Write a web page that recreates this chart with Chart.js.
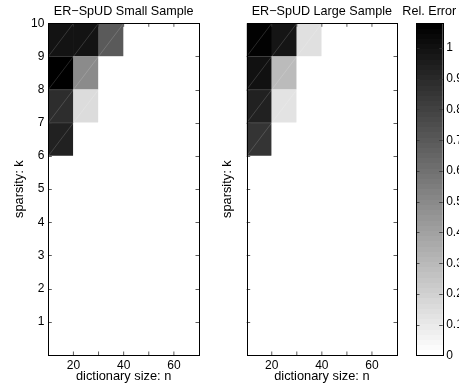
<!DOCTYPE html>
<html>
<head>
<meta charset="utf-8">
<script src="https://cdn.jsdelivr.net/npm/chart.js@4.4.1/dist/chart.umd.min.js"></script>
<style>
html,body{margin:0;padding:0;background:#fff;}
#wrap{position:relative;width:459px;height:389px;overflow:hidden;}
#wrap canvas{position:absolute;left:0;top:0;}
</style>
</head>
<body>
<div id="wrap">
<canvas id="small" width="459" height="389"></canvas>
<canvas id="large" width="459" height="389"></canvas>
<canvas id="cbar" width="459" height="389"></canvas>
</div>
<script>
// dictionary size n (left edge of cell), sparsity k (cell spans k-1..k)
let nVals=[10,20,30,40,50,60];
let kVals=[10,9,8,7,6,5,4,3,2,1];
// relative error, one row per k (kVals order), one column per n
let errSmall=[
  [1.00,1.00,0.70,0,0,0],
  [1.10,0.49,0,0,0,0],
  [0.89,0.15,0,0,0,0],
  [0.94,0,0,0,0,0],
  [0,0,0,0,0,0],
  [0,0,0,0,0,0],
  [0,0,0,0,0,0],
  [0,0,0,0,0,0],
  [0,0,0,0,0,0],
  [0,0,0,0,0,0]
];
let errLarge=[
  [1.07,0.99,0.13,0,0,0],
  [1.01,0.29,0,0,0,0],
  [0.94,0.12,0,0,0,0],
  [0.86,0,0,0,0,0],
  [0,0,0,0,0,0],
  [0,0,0,0,0,0],
  [0,0,0,0,0,0],
  [0,0,0,0,0,0],
  [0,0,0,0,0,0],
  [0,0,0,0,0,0]
];
let xTickLabels=[20,40,60];
let cMax=1.08;
let cbarTicks=[0,0.1,0.2,0.3,0.4,0.5,0.6,0.7,0.8,0.9,1];

Chart.defaults.font.family='"Liberation Sans", Arial, sans-serif';
Chart.defaults.color='#000';

let titleFont={size:12.6,weight:'normal'};
let labelFont={size:12.8};
let tickFont={size:12};

function grayFor(v){
  let g=Math.round(255*(1-Math.min(v,cMax)/cMax));
  return 'rgb('+g+','+g+','+g+')';
}

// box round the plot + inward tick marks, matlab style
const frame={
  id:'frame',
  afterDatasetsDraw(chart){
    let vals=chart.data.datasets[0].vals;
    if(!vals) return;
    let ctx=chart.ctx;
    ctx.save();
    ctx.strokeStyle='rgba(255,255,255,0.22)';
    ctx.lineWidth=0.7;
    chart.getDatasetMeta(0).data.forEach((el,i)=>{
      if(vals[i]<=0) return;
      let w=el.width/2;
      ctx.beginPath();
      ctx.moveTo(el.x-w,el.base);
      ctx.lineTo(el.x+w,el.y);
      ctx.moveTo(el.x-w,el.y);
      ctx.lineTo(el.x+w,el.y);
      ctx.stroke();
    });
    ctx.restore();
  },
  afterDraw(chart){
    let ctx=chart.ctx, a=chart.chartArea;
    ctx.save();
    ctx.strokeStyle='#333';
    ctx.lineWidth=0.8;
    let len=3.5;
    let xs=chart.scales.x, ys=chart.scales.y;
    if(xs && xs.options.display!==false){
      xs.ticks.forEach(t=>{
        let p=xs.getPixelForValue(t.value);
        if(p<=a.left+1||p>=a.right-1) return;
        ctx.beginPath();
        ctx.moveTo(p,a.bottom);ctx.lineTo(p,a.bottom-len);
        ctx.moveTo(p,a.top);ctx.lineTo(p,a.top+len);
        ctx.stroke();
      });
    }
    ys.ticks.forEach(t=>{
      let p=Math.round(ys.getPixelForValue(t.value))+0.5;
      if(p<=a.top+1||p>=a.bottom-1) return;
      ctx.beginPath();
      ctx.moveTo(a.left,p);ctx.lineTo(a.left+len,p);
      ctx.moveTo(a.right,p);ctx.lineTo(a.right-len,p);
      ctx.stroke();
    });
    ctx.strokeStyle='#000';
    ctx.lineWidth=1;
    ctx.strokeRect(Math.round(a.left)+0.5,Math.round(a.top)+0.5,Math.round(a.right-a.left),Math.round(a.bottom-a.top));
    ctx.restore();
  }
};

function heatmap(id,title,err,padLeft,yWidth,padRight,showYLabels){
  let pts=[],cols=[],vals=[];
  for(let i=0;i<kVals.length;i++){
    for(let j=0;j<nVals.length;j++){
      pts.push({x:nVals[j]+5,y:[kVals[i]-1,kVals[i]]});
      cols.push(grayFor(err[i][j]));
      vals.push(err[i][j]);
    }
  }
  new Chart(document.getElementById(id),{
    type:'bar',
    data:{
      datasets:[{
        data:pts,
        vals:vals,
        backgroundColor:cols,
        borderWidth:0,
        barPercentage:1,
        categoryPercentage:1
      }]
    },
    options:{
      responsive:false,
      animation:false,
      events:[],
      layout:{padding:{left:padLeft,right:padRight,top:0,bottom:0}},
      plugins:{
        legend:{display:false},
        tooltip:{enabled:false},
        title:{display:true,text:title,fullSize:false,font:titleFont,color:'#000',padding:{top:3.8,bottom:4.4}}
      },
      scales:{
        x:{
          type:'linear',offset:false,min:10,max:70,
          grid:{display:false,drawTicks:false},border:{display:false},
          ticks:{stepSize:10,autoSkip:false,maxRotation:0,padding:3,font:tickFont,
            callback:v=>xTickLabels.includes(v)?v:''},
          title:{display:true,text:'dictionary size: n',font:labelFont,padding:{top:0,bottom:4.7}},
          afterFit:s=>{s.height=34;}
        },
        y:{
          type:'linear',min:0,max:10,
          grid:{display:false,drawTicks:false},border:{display:false},
          ticks:{stepSize:1,display:showYLabels,padding:4,font:tickFont,
            callback:v=>v===0?'':v},
          title:{display:true,text:'sparsity: k',font:labelFont,padding:{top:11.3,bottom:0}},
          afterFit:s=>{s.width=yWidth;}
        }
      }
    },
    plugins:[frame]
  });
}

heatmap('small','ER\u2212SpUD Small Sample',errSmall,0,48.3,260,true);
heatmap('large','ER\u2212SpUD Large Sample',errLarge,208.5,38.2,62,false);

// colour bar
new Chart(document.getElementById('cbar'),{
  type:'bar',
  data:{
    labels:['Rel. Error'],
    datasets:[{
      data:[[0,cMax]],
      yAxisID:'y',
      borderWidth:0,
      barPercentage:1,
      categoryPercentage:1,
      backgroundColor:c=>{
        let ch=c.chart, ys=ch.scales.y;
        if(!ch.chartArea||!ys) return '#888';
        let y0=ys.getPixelForValue(0), y1=ys.getPixelForValue(cMax);
        let g=ch.ctx.createLinearGradient(0,y0,0,y1);
        for(let i=0;i<64;i++){
          let col=grayFor(cMax*i/63);
          g.addColorStop(i/64,col);
          g.addColorStop((i+1)/64,col);
        }
        return g;
      }
    }]
  },
  options:{
    responsive:false,
    animation:false,
    events:[],
    layout:{padding:{left:399.6,right:0,top:0,bottom:33.5}},
    plugins:{
      legend:{display:false},
      tooltip:{enabled:false},
      title:{display:true,text:'Rel. Error',fullSize:true,font:titleFont,color:'#000',padding:{top:3.8,bottom:4.4}}
    },
    scales:{
      y:{
        position:'right',min:0,max:cMax,
        grid:{display:false,drawTicks:false},border:{display:false},
        afterBuildTicks:s=>{s.ticks=cbarTicks.map(v=>({value:v}));},
        ticks:{padding:3.5,font:tickFont,callback:v=>String(v)},
        afterFit:s=>{s.width=16.3;}
      },
      x:{display:false},
      spacer:{
        axis:'y',position:'left',
        grid:{display:false,drawTicks:false},border:{display:false},
        ticks:{display:false},
        afterFit:s=>{s.width=16.4;}
      }
    }
  },
  plugins:[frame]
});
</script>
</body>
</html>
